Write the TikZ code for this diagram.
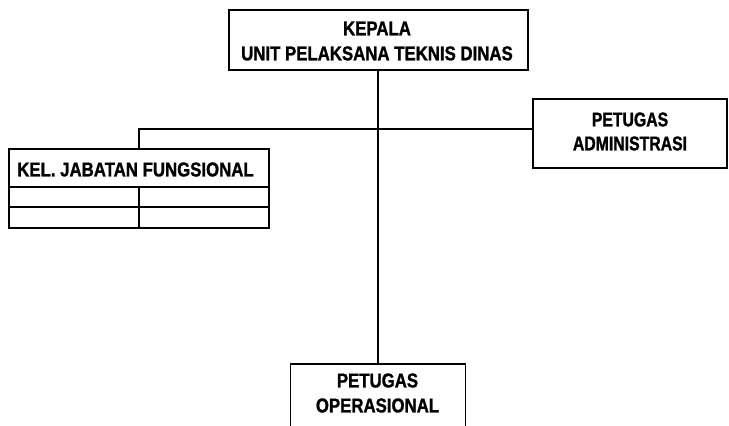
\documentclass[tikz,border=0pt]{standalone}
\usepackage{fontspec}
\newfontfamily\lblfont[FakeStretch=0.84,FakeBold=1.2,UprightFont={* Bold},BoldFont={* Bold}]{Liberation Sans}
\newfontfamily\lblfontn[FakeStretch=0.79,FakeBold=1.2,UprightFont={* Bold},BoldFont={* Bold}]{Liberation Sans}
\tikzset{
  every picture/.style={x=1pt,y=-1pt},
  conn/.style={line width=2pt,black},
  box/.style={draw,line width=1.8pt,rectangle,inner sep=0pt},
  lbl/.style={font=\lblfont\fontsize{20}{25}\selectfont,align=center,inner sep=0pt},
  lbln/.style={font=\lblfontn\fontsize{20}{24}\selectfont,align=center,inner sep=0pt}
}
\begin{document}
\begin{tikzpicture}
\useasboundingbox[fill=white] (0,0) rectangle (729,426);
% boxes
\node[box,minimum width=299pt,minimum height=60pt] (kepala) at (378.5,40) {};
\node[lbl] (kepalatext) at (377,41) {KEPALA\\UNIT PELAKSANA TEKNIS DINAS};
\node[box,minimum width=194pt,minimum height=69pt] (admin) at (630,133.5) {};
\node[lbln] (admintext) at (630,131.5) {PETUGAS\\ADMINISTRASI};
\node[box,minimum width=175pt,minimum height=70pt] (oprbox) at (378,399) {};
\node[lbl] (opr) at (377.5,393) {PETUGAS\\OPERASIONAL};
\node[box,minimum width=260pt,minimum height=79pt,anchor=north west] (kel) at (8,148) {};
\node[lbl] (keltext) at (135.5,169.5) {KEL. JABATAN FUNGSIONAL};
\coordinate (r1) at (8,187);
\coordinate (r1e) at (268,187);
\coordinate (r2) at (8,207);
\coordinate (r2e) at (268,207);
\coordinate (dv) at (139,187);
\coordinate (dve) at (139,227);
\draw[conn] (r1) -- (r1e);
\draw[conn] (r2) -- (r2e);
\draw[conn] (dv) -- (dve);
% connectors
\coordinate (bend) at (139,129);
\coordinate (kelin) at (139,148);
\coordinate (trunk) at (378,70);
\draw[conn] (trunk) -- (trunk |- oprbox.north);
\draw[conn] (admin.west |- bend) -- (bend) -- (kelin);
\end{tikzpicture}
\end{document}
